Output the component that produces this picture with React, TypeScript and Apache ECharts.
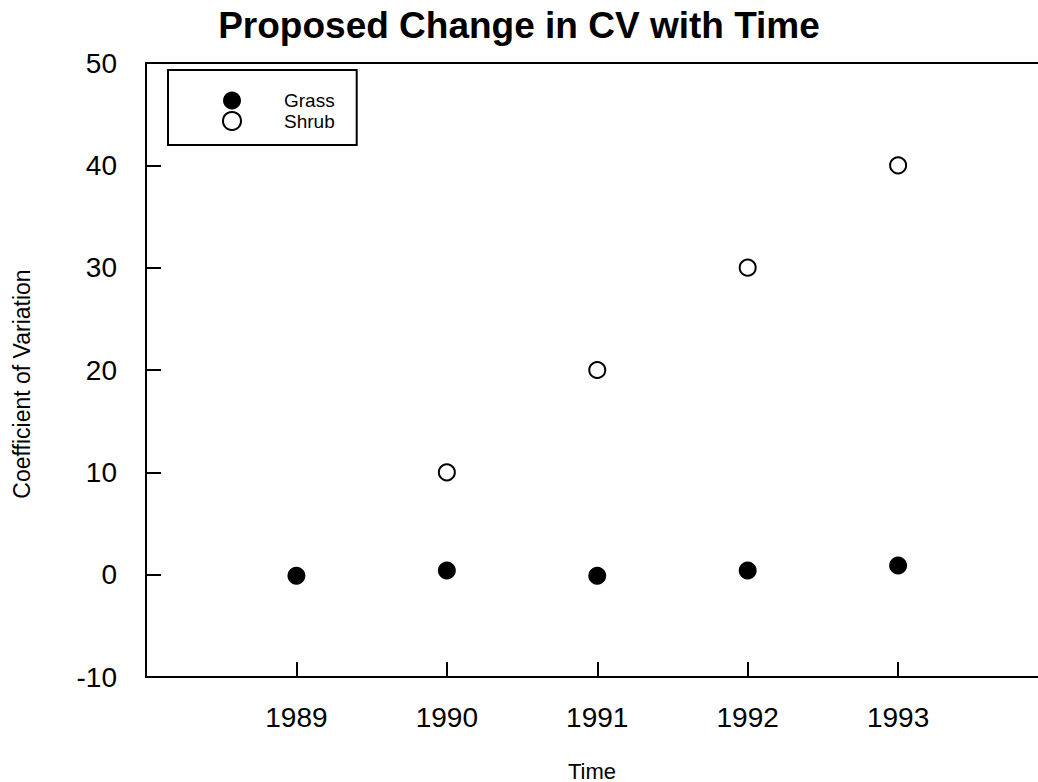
import React, { useEffect, useRef } from "react";
import * as echarts from "echarts";

const years = [1989, 1990, 1991, 1992, 1993];
const grassValues = [-0.1, 0.4, -0.1, 0.4, 0.9];
const shrubYears = [1990, 1991, 1992, 1993];
const shrubValues = [10, 20, 30, 40];
const titleText = "Proposed Change in CV with Time";
const xName = "Time";
const yName = "Coefficient of Variation";

const FONT = "'Liberation Sans', Arial, Helvetica, sans-serif";

export default function App() {
  const ref = useRef<HTMLDivElement>(null);
  useEffect(() => {
    if (!ref.current) return;
    const chart = echarts.init(ref.current, undefined, { renderer: "svg" });
    const xMin = 1988;
    const xMax = 1993.93;
    chart.setOption({
      animation: false,
      backgroundColor: "#fff",
      textStyle: { fontFamily: FONT, color: "#000" },
      title: {
        text: titleText,
        left: "center",
        top: 2,
        textStyle: { fontFamily: FONT, fontSize: 37, fontWeight: "bold", color: "#000" },
      },
      grid: {
        left: 146,
        right: 0,
        top: 63,
        bottom: 105,
        show: false,
        containLabel: false,
        outerBoundsMode: "none",
      },
      legend: {
        left: 168,
        top: 70,
        orient: "vertical",
        itemWidth: 94,
        itemHeight: 18,
        itemGap: 1,
        borderColor: "#000",
        borderWidth: 2,
        padding: [21, 22, 14, 54],
        textStyle: { fontFamily: FONT, fontSize: 19, color: "#000" },
        data: ["Grass", "Shrub"],
      },
      xAxis: [
        {
          type: "value",
          min: xMin,
          max: xMax,
          interval: 1,
          name: xName,
          nameLocation: "middle",
          nameGap: 83,
          nameTextStyle: { fontFamily: FONT, fontSize: 22, color: "#000" },
          splitLine: { show: false },
          axisLine: { show: true, onZero: false, lineStyle: { color: "#000", width: 2 } },
          axisTick: { show: true, inside: true, length: 15, lineStyle: { color: "#000", width: 2 } },
          axisLabel: {
            fontFamily: FONT,
            fontSize: 28,
            color: "#000",
            margin: 26,
            showMinLabel: false,
            showMaxLabel: false,
            formatter: (v: number) => (years.includes(v) ? String(v) : ""),
          },
        },
        {
          type: "value",
          position: "top",
          min: xMin,
          max: xMax,
          splitLine: { show: false },
          axisLine: { show: true, onZero: false, lineStyle: { color: "#000", width: 2 } },
          axisTick: { show: false },
          axisLabel: { show: false },
        },
      ],
      yAxis: {
        type: "value",
        min: -10,
        max: 50,
        interval: 10,
        name: yName,
        nameLocation: "middle",
        nameGap: 113,
        nameRotate: 90,
        nameTextStyle: { fontFamily: FONT, fontSize: 23, color: "#000", padding: [0, 28, 0, 0] },
        splitLine: { show: false },
        axisLine: { show: true, onZero: false, lineStyle: { color: "#000", width: 2 } },
        axisTick: { show: true, inside: true, length: 15, lineStyle: { color: "#000", width: 2 } },
        axisLabel: { fontFamily: FONT, fontSize: 28, color: "#000", margin: 29 },
      },
      series: [
        {
          name: "Grass",
          type: "scatter",
          xAxisIndex: 0,
          symbol: "circle",
          symbolSize: 18,
          itemStyle: { color: "#000", opacity: 1 },
          data: years.map((y, i) => [y, grassValues[i]]),
          z: 3,
        },
        {
          name: "Shrub",
          type: "scatter",
          xAxisIndex: 0,
          symbol: "circle",
          symbolSize: 16,
          itemStyle: { color: "#fff", borderColor: "#000", borderWidth: 2, opacity: 1 },
          data: shrubYears.map((y, i) => [y, shrubValues[i]]),
          z: 2,
        },
      ],
    });
    return () => chart.dispose();
  }, []);
  return (
    <div
      ref={ref}
      style={{ position: "absolute", left: 0, top: 0, width: 1038, height: 782 }}
    />
  );
}
